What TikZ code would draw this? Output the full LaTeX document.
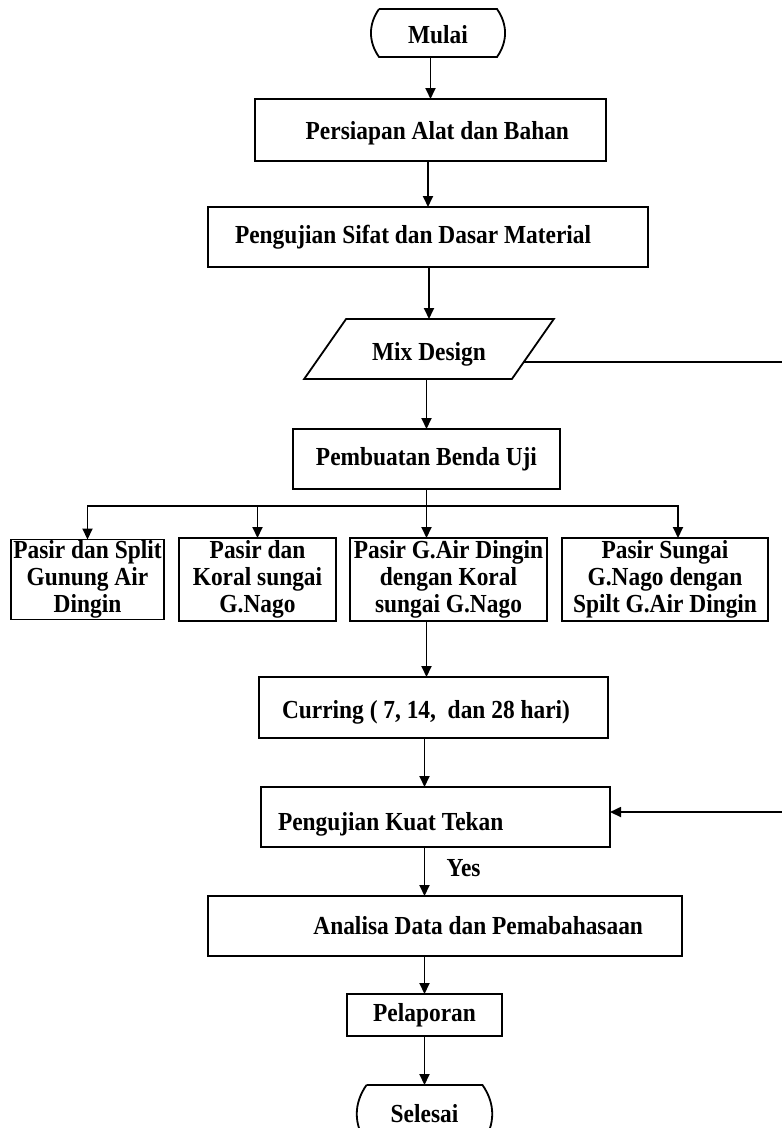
\documentclass[tikz,border=0pt]{standalone}
\usepackage{fontspec}
\setmainfont{Liberation Serif}[FakeStretch=0.9]
\usetikzlibrary{positioning,arrows.meta,shapes.geometric,calc}

\begin{document}
\begin{tikzpicture}[
  font=\fontsize{26pt}{27pt}\selectfont\bfseries,
  >={Triangle[length=11pt,width=10pt]},
  box/.style={draw, line width=1.8pt, align=center, inner sep=3pt,
              outer sep=0pt, minimum height=60pt},
  leaf/.style={draw, line width=1.8pt, align=center, inner xsep=2pt,
               inner ysep=0pt, outer sep=0pt, minimum height=83pt},
  term/.style={inner sep=0pt, outer sep=0pt, minimum width=118pt,
               minimum height=48pt},
  io/.style={draw, line width=1.8pt, trapezium, trapezium stretches=true,
             trapezium left angle=45, trapezium right angle=135,
             outer sep=0pt, minimum width=250pt, minimum height=60pt},
  arr/.style={->, line width=1.8pt},
  rim/.style={line width=1.8pt},
]
\useasboundingbox (0pt,0pt) rectangle (782pt,-1128pt);

% ---------- main column, top part ----------
\node[term] (start) at (438pt,-33pt) {\raisebox{-2pt}[\height][\depth]{Mulai}};
\draw[rim] (start.north west) -- (start.north east)
  to[bend left=35] (start.south east) -- (start.south west)
  to[bend left=35] (start.north west);

\node[box, below=42pt of start, xshift=-7.5pt, minimum width=351pt,
      minimum height=62pt] (prep)
  {\raisebox{-3pt}[\height][\depth]{\makebox[277pt][r]{Persiapan Alat dan Bahan}}};
\node[box, below=46pt of prep, xshift=-2.5pt, minimum width=440pt] (sifat)
  {\makebox[386pt][l]{Pengujian Sifat dan Dasar Material}};
\node[io, below=52pt of sifat, xshift=1pt] (mix)
  {\raisebox{-5pt}[\height][\depth]{Mix Design}};
\node[box, below=50pt of mix, xshift=-2.5pt, minimum width=267pt] (benda)
  {Pembuatan Benda Uji};

\draw[arr] (prep.north |- start.south) -- (prep.north);
\draw[arr] (sifat.north |- prep.south) -- (sifat.north);
\draw[arr] (mix.north |- sifat.south) -- (mix.north);
\draw[arr] (benda.north |- mix.south) -- (benda.north);

% ---------- four mixes ----------
\node[leaf, below=49pt of benda, xshift=22pt, minimum width=197pt] (b3)
  {Pasir G.Air Dingin\\dengan Koral\\sungai G.Nago};
\node[leaf, left=14pt of b3, minimum width=157pt] (b2)
  {Pasir dan\\Koral sungai\\G.Nago};
\node[leaf, left=15pt of b2, minimum width=153pt, minimum height=80pt] (b1)
  {Pasir dan Split\\Gunung Air\\Dingin};
\node[leaf, right=15pt of b3, minimum width=206pt] (b4)
  {Pasir Sungai\\G.Nago dengan\\Spilt G.Air Dingin};

\coordinate[below=17pt of benda.south] (split);
\draw[rim] (benda.south) -- (split);
\draw[arr] (split) -| (b1.north);
\draw[arr] (split) -| (b2.north);
\draw[arr] (split) -- (split |- b3.north);
\draw[arr] (split) -| ($(b4.north)+(13pt,0)$);

% ---------- main column, bottom part ----------
\node[box, below=56pt of b3, xshift=-15pt, minimum width=349pt,
      minimum height=61pt] (cure)
  {\raisebox{-5pt}[\height][\depth]{\makebox[303pt][l]{Curring ( 7, 14,~ dan 28 hari)}}};
\node[box, below=49pt of cure, xshift=2pt, minimum width=349pt] (kuat)
  {\raisebox{-7pt}[\height][\depth]{\makebox[315pt][l]{Pengujian Kuat Tekan}}};
\node[box, below=49pt of kuat, xshift=9.5pt, minimum width=474pt] (ana)
  {\makebox[396pt][r]{Analisa Data dan Pemabahasaan}};
\node[box, below=38pt of ana, xshift=-20.5pt, minimum width=155pt,
      minimum height=42pt] (lapor) {Pelaporan};
\node[term, below=49pt of lapor, minimum width=116pt, minimum height=58pt]
  (finish) {Selesai};
\draw[rim] (finish.north west) -- (finish.north east)
  to[bend left=35] (finish.south east) -- (finish.south west)
  to[bend left=35] (finish.north west);

\draw[arr] (b3.south -| benda.south) -- (cure.north -| benda.south);
\draw[arr] (cure.south -| lapor.north) -- (kuat.north -| lapor.north);
\draw[arr] (kuat.south -| lapor.north) -- (ana.north -| lapor.north)
      node[pos=0.43, right=18pt] {Yes};
\draw[arr] (ana.south -| lapor.north) -- (lapor.north);
\draw[arr] (lapor.south) -- (finish.north);

% ---------- loop back from mix design ----------
\coordinate (back) at ($(mix.-8)+(275pt,0)$);
\draw[arr] (mix.-8) -- (back) |- ([yshift=5pt]kuat.east);

\end{tikzpicture}
\end{document}
